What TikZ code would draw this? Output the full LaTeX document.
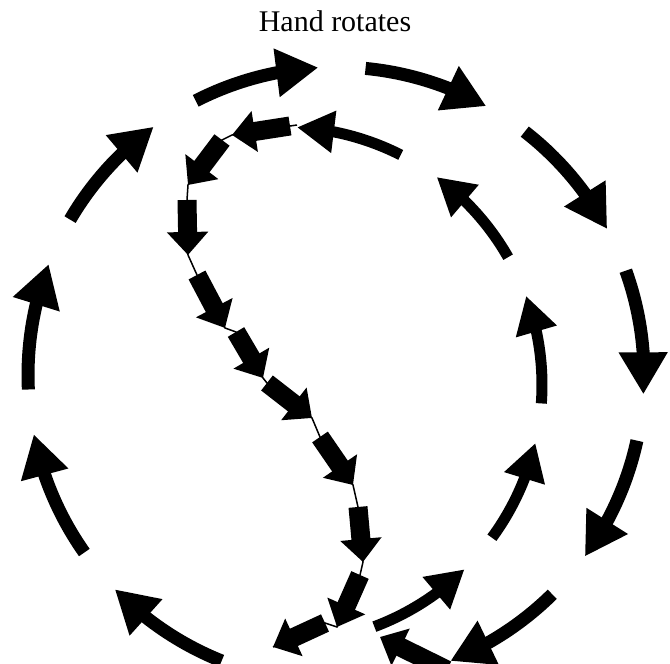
\documentclass[tikz,border=0pt]{standalone}
\usepackage{fontspec}
\setmainfont{Liberation Serif}
\usetikzlibrary{arrows.meta,bending}
\begin{document}
\begin{tikzpicture}[x=1pt,y=1pt,
  outarr/.style={line width=13pt,-{Triangle[length=42pt,width=46pt]}},
  inarr/.style={line width=11pt,-{Triangle[length=37pt,width=40pt]}},
  blockarr/.style={line width=19pt,-{Triangle[length=23pt,width=40pt]}},
  thread/.style={line width=1.5pt},
  title/.style={font=\fontsize{30}{32}\selectfont, anchor=base, inner sep=0pt}]
\useasboundingbox (0,0) rectangle (670,664);
\clip (0,0) rectangle (670,664);
\fill[white] (0,0) rectangle (670,664);

\node[title] (title) at (335,632) {Hand rotates};

% outer ring (clockwise)
\begin{scope}[shift={(336,289)}]
  \foreach \a/\b in {117.1/93.3, 84.5/60.8, 52.2/28.3, 19.8/-3.6, -12.3/-36.1,
                     -45.4/-68.2, -111.8/-135.9, -144.8/-168.9, -177.3/-201.1, -210.3/-233.7}
    \draw[outarr] (\a:308) arc[start angle=\a, end angle=\b, radius=308];
\end{scope}

% inner ring (counter-clockwise)
\begin{scope}[shift={(284,279)}]
  \foreach \a/\b in {63.1/87.1, 29.7/53.7, -4.1/20.2, -36.3/-13.0, -69.5/-45.6}
    \draw[inarr] (\a:258) arc[start angle=\a, end angle=\b, radius=258];
\end{scope}

% chain coordinates
\coordinate (s0) at (297,539);
\coordinate (t1) at (290,538); \coordinate (h1) at (232,529);
\coordinate (t2) at (222,524); \coordinate (h2) at (188,479);
\coordinate (t3) at (187,464); \coordinate (h3) at (188,409);
\coordinate (t4) at (197,389); \coordinate (h4) at (225,336);
\coordinate (t5) at (236,332); \coordinate (h5) at (263,286);
\coordinate (t6) at (267,281); \coordinate (h6) at (312,246);
\coordinate (t7) at (320,227); \coordinate (h7) at (353,179);
\coordinate (t8) at (358,157); \coordinate (h8) at (363,102);
\coordinate (t9) at (360,89);  \coordinate (h9) at (337,37);
\coordinate (t10) at (325,41); \coordinate (h10) at (273,17);
\coordinate (t11) at (447,-6); \coordinate (h11) at (380,27);

\draw[thread] (s0) -- (t1) -- (h1) -- (t2) -- (h2) -- (t3) -- (h3) -- (t4) -- (h4)
  -- (t5) -- (h5) -- (t6) -- (h6) -- (t7) -- (h7) -- (t8) -- (h8) -- (t9) -- (h9)
  -- (t10) -- (h10);

\foreach \i in {1,...,11}
  \draw[blockarr] (t\i) -- (h\i);
\end{tikzpicture}
\end{document}
